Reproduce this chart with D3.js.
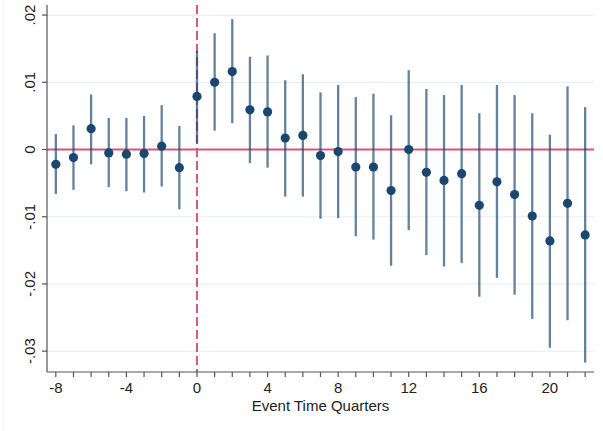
<!DOCTYPE html>
<html>
<head>
<meta charset="utf-8">
<script src="https://cdn.jsdelivr.net/npm/d3@7"></script>
<style>
  html, body { margin: 0; padding: 0; background: #fff; }
  svg { display: block; font-family: "Liberation Sans", Arial, Helvetica, sans-serif; }
</style>
</head>
<body>
<svg id="chart" width="603" height="431"></svg>
<script>
// Event-study coefficients with 95% confidence intervals, by quarter relative to the event
const eventTime = [-8, -7, -6, -5, -4, -3, -2, -1, 0, 1, 2, 3, 4, 5, 6, 7, 8, 9, 10, 11, 12, 13, 14, 15, 16, 17, 18, 19, 20, 21, 22];
const estimate = [-0.0022, -0.0012, 0.0031, -0.0005, -0.0007, -0.0006, 0.0005, -0.0027, 0.0079, 0.0100, 0.0116, 0.0059, 0.0056, 0.0017, 0.0021, -0.0009, -0.0003, -0.0026, -0.0026, -0.0061, 0.0000, -0.0034, -0.0046, -0.0036, -0.0083, -0.0048, -0.0067, -0.0099, -0.0136, -0.0080, -0.0127];
const ciUpper = [0.0023, 0.0036, 0.0082, 0.0047, 0.0047, 0.0050, 0.0066, 0.0035, 0.0147, 0.0173, 0.0194, 0.0138, 0.0140, 0.0103, 0.0112, 0.0085, 0.0096, 0.0078, 0.0083, 0.0051, 0.0118, 0.0090, 0.0081, 0.0096, 0.0054, 0.0096, 0.0081, 0.0054, 0.0022, 0.0094, 0.0063];
const ciLower = [-0.0066, -0.0060, -0.0022, -0.0056, -0.0062, -0.0064, -0.0055, -0.0089, 0.0009, 0.0028, 0.0039, -0.0020, -0.0027, -0.0070, -0.0070, -0.0103, -0.0102, -0.0129, -0.0134, -0.0173, -0.0120, -0.0157, -0.0174, -0.0169, -0.0219, -0.0191, -0.0216, -0.0252, -0.0295, -0.0254, -0.0317];
const yTicks = [-0.03, -0.02, -0.01, 0, 0.01, 0.02];
const yTickLabels = ["-.03", "-.02", "-.01", "0", ".01", ".02"];
const xMajorTicks = [-8, -4, 0, 4, 8, 12, 16, 20];
const xTitle = "Event Time Quarters";

const points = eventTime.map((t, i) => ({ t, est: estimate[i], lo: ciLower[i], hi: ciUpper[i] }));

const svg = d3.select("#chart");
const plotLeft = 47, plotRight = 594, plotTop = 5, plotBottom = 372;
const fontSize = 15;

const x = d3.scaleLinear().domain([-8.5, 22.5]).range([plotLeft, plotRight]);
const y = d3.scaleLinear().domain([-0.0331, 0.0215]).range([plotBottom, plotTop]);

// faint outer frame edge
svg.append("line")
  .attr("x1", 3).attr("x2", 3).attr("y1", 0).attr("y2", 431)
  .attr("stroke", "#f1f1f1").attr("stroke-width", 1);

// horizontal grid lines
svg.append("g")
  .selectAll("line")
  .data(yTicks)
  .join("line")
  .attr("x1", plotLeft).attr("x2", plotRight)
  .attr("y1", d => y(d)).attr("y2", d => y(d))
  .attr("stroke", "#e8f1f2").attr("stroke-width", 1.2);

// reference lines: event date and zero effect
svg.append("line")
  .attr("x1", x(0)).attr("x2", x(0))
  .attr("y1", plotTop).attr("y2", plotBottom)
  .attr("stroke", "#d9587c").attr("stroke-width", 2)
  .attr("stroke-dasharray", "9,4");

svg.append("line")
  .attr("x1", plotLeft).attr("x2", plotRight)
  .attr("y1", y(0)).attr("y2", y(0))
  .attr("stroke", "#d4577a").attr("stroke-width", 2);

// confidence intervals
svg.append("g")
  .selectAll("line")
  .data(points)
  .join("line")
  .attr("x1", d => x(d.t)).attr("x2", d => x(d.t))
  .attr("y1", d => y(d.hi)).attr("y2", d => y(d.lo))
  .attr("stroke", "#1a476f").attr("stroke-opacity", 0.68)
  .attr("stroke-width", 2.3);

// point estimates
svg.append("g")
  .selectAll("circle")
  .data(points)
  .join("circle")
  .attr("cx", d => x(d.t)).attr("cy", d => y(d.est))
  .attr("r", 4.6)
  .attr("fill", "#1a476f");

// y axis
const yAxis = svg.append("g").attr("transform", `translate(${plotLeft},0)`);
yAxis.append("line")
  .attr("x1", 0).attr("x2", 0).attr("y1", plotTop).attr("y2", plotBottom)
  .attr("stroke", "#555").attr("stroke-width", 1.2);
yAxis.selectAll(".tick")
  .data(yTicks)
  .join("line")
  .attr("x1", -5).attr("x2", 0)
  .attr("y1", d => y(d)).attr("y2", d => y(d))
  .attr("stroke", "#555").attr("stroke-width", 1.2);
yAxis.selectAll("text")
  .data(yTicks)
  .join("text")
  .attr("transform", d => `translate(-12.5,${y(d)}) rotate(-90)`)
  .attr("text-anchor", "middle")
  .attr("font-size", fontSize)
  .attr("fill", "#222")
  .text((d, i) => yTickLabels[i]);

// x axis
const xAxis = svg.append("g").attr("transform", `translate(0,${plotBottom})`);
xAxis.append("line")
  .attr("x1", plotLeft).attr("x2", plotRight).attr("y1", 0).attr("y2", 0)
  .attr("stroke", "#555").attr("stroke-width", 1.2);
xAxis.selectAll(".minor")
  .data(eventTime)
  .join("line")
  .attr("x1", d => x(d)).attr("x2", d => x(d))
  .attr("y1", 0).attr("y2", 5)
  .attr("stroke", "#555").attr("stroke-width", 1.2);
xAxis.selectAll("text")
  .data(xMajorTicks)
  .join("text")
  .attr("x", d => x(d)).attr("y", 21)
  .attr("text-anchor", "middle")
  .attr("font-size", fontSize)
  .attr("fill", "#222")
  .text(d => d);

svg.append("text")
  .attr("x", (x(-8.5) + x(22.5)) / 2)
  .attr("y", 411)
  .attr("text-anchor", "middle")
  .attr("font-size", fontSize)
  .attr("fill", "#222")
  .text(xTitle);
</script>
</body>
</html>
